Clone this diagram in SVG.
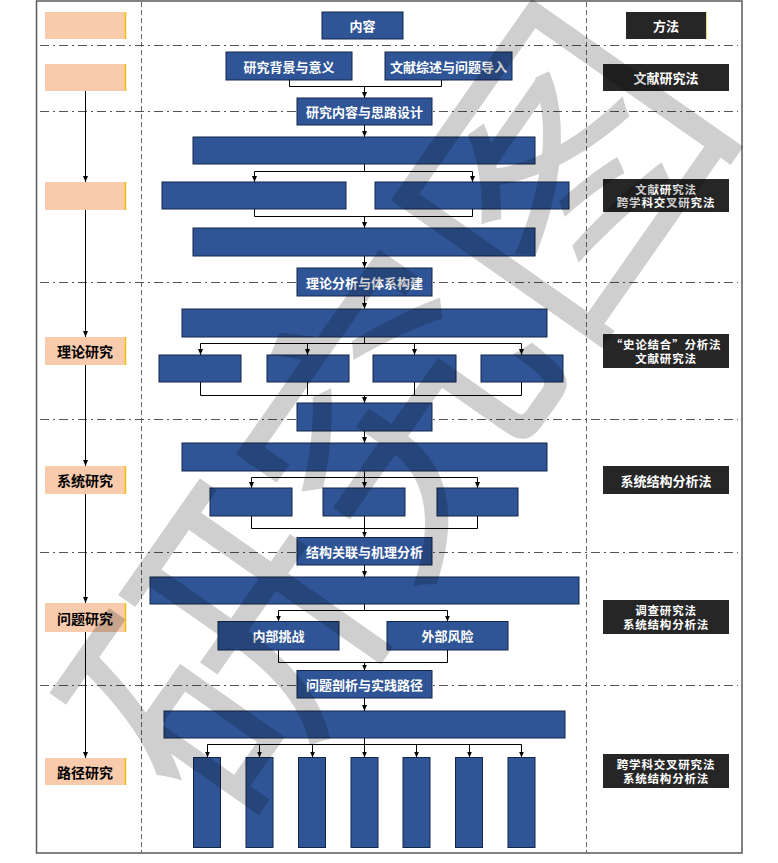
<svg xmlns="http://www.w3.org/2000/svg" width="778" height="863" viewBox="0 0 778 863">
<defs>
<style>
.pk{fill:#F8CBAD}
.pe{stroke:#F2C200;stroke-width:1.5}
.bl{fill:#2F5597;stroke:#15264A;stroke-width:1}
.dk{fill:#262626}
.t{font-family:"Noto Sans CJK SC","Noto Sans CJK JP",sans-serif;font-weight:bold;text-anchor:middle;dominant-baseline:central}
.w{fill:#fff;font-size:13px}
.k{fill:#000;font-size:14px}
.m{fill:#fff;font-size:13px}
.m2{fill:#fff;font-size:11.5px;letter-spacing:0.8px}
.ln{stroke:#000;stroke-width:1;fill:none}
.ar{stroke:#000;stroke-width:1;fill:none;marker-end:url(#a)}
.hd{stroke:#555;stroke-width:1;stroke-dasharray:9 4 2 4;fill:none}
.vd{stroke:#666;stroke-width:1;stroke-dasharray:5 3;fill:none}
</style>
<marker id="a" viewBox="0 0 6 6" refX="6" refY="3" markerWidth="6" markerHeight="6" orient="auto" markerUnits="userSpaceOnUse"><path d="M0,0.5 L6,3 L0,5.5 z" fill="#000"/></marker>
</defs>
<rect x="0" y="0" width="778" height="863" fill="#fff"/>
<rect x="36.5" y="1" width="705.5" height="852" fill="none" stroke="#595959" stroke-width="1.5"/>
<g id="grid">
<path class="vd" d="M141.5,2 V853 M586.5,2 V853"/>
<path class="hd" d="M40,45.5 H738 M40,111.5 H738 M40,282.5 H738 M40,419.5 H738 M40,552.5 H738 M40,685.5 H738"/>
</g>
<g id="connectors">
<path class="ar" d="M85.5,91 V182"/>
<path class="ar" d="M85.5,210 V337"/>
<path class="ar" d="M85.5,365 V466"/>
<path class="ar" d="M85.5,494 V603"/>
<path class="ar" d="M85.5,632 V758"/>
<path class="ln" d="M289.5,80 V86.5 H441.5 V80"/>
<path class="ar" d="M364.5,86.5 V98"/>
<path class="ar" d="M364.5,125 V137"/>
<path class="ln" d="M364.5,164 V171.5 M254.5,171.5 H472.5"/>
<path class="ar" d="M254.5,171.5 V182"/>
<path class="ar" d="M472.5,171.5 V182"/>
<path class="ln" d="M254.5,209 V216.5 H472.5 V209"/>
<path class="ar" d="M364.5,216.5 V228"/>
<path class="ar" d="M364.5,256 V268"/>
<path class="ar" d="M364.5,296 V309"/>
<path class="ln" d="M364.5,337 V343.5 M200.5,343.5 H521.5"/>
<path class="ar" d="M200.5,343.5 V355"/>
<path class="ar" d="M307.5,343.5 V355"/>
<path class="ar" d="M414.5,343.5 V355"/>
<path class="ar" d="M521.5,343.5 V355"/>
<path class="ln" d="M200.5,382 V395.5 H521.5 V382 M307.5,382 V395.5 M414.5,382 V395.5"/>
<path class="ar" d="M364.5,395.5 V403"/>
<path class="ar" d="M364.5,431 V443"/>
<path class="ln" d="M364.5,471 V477.5 M251.5,477.5 H477.5"/>
<path class="ar" d="M251.5,477.5 V488"/>
<path class="ar" d="M364.5,477.5 V488"/>
<path class="ar" d="M477.5,477.5 V488"/>
<path class="ln" d="M251.5,516 V528.5 H477.5 V516 M364.5,516 V528.5"/>
<path class="ar" d="M364.5,528.5 V537.5"/>
<path class="ar" d="M364.5,565 V577"/>
<path class="ln" d="M364.5,604 V610.5 M278.5,610.5 H447.5"/>
<path class="ar" d="M278.5,610.5 V621.5"/>
<path class="ar" d="M447.5,610.5 V621.5"/>
<path class="ln" d="M278.5,650 V662.5 H447.5 V650"/>
<path class="ar" d="M364.5,662.5 V670.5"/>
<path class="ar" d="M364.5,698 V711"/>
<path class="ln" d="M364.5,738 V744.5 M207.5,744.5 H521.5"/>
<path class="ar" d="M207.5,744.5 V757.5"/>
<path class="ar" d="M259.5,744.5 V757.5"/>
<path class="ar" d="M312.5,744.5 V757.5"/>
<path class="ar" d="M364.5,744.5 V757.5"/>
<path class="ar" d="M416.5,744.5 V757.5"/>
<path class="ar" d="M469.5,744.5 V757.5"/>
<path class="ar" d="M521.5,744.5 V757.5"/>
</g>
<g id="stage-0"><rect class="pk" x="45" y="12" width="81" height="27"/><path class="pe" d="M125.5,12 V39"/></g>
<g id="stage-1"><rect class="pk" x="45" y="64" width="81" height="27"/><path class="pe" d="M125.5,64 V91"/></g>
<g id="stage-2"><rect class="pk" x="45" y="182" width="81" height="28"/><path class="pe" d="M125.5,182 V210"/></g>
<g id="stage-3"><rect class="pk" x="45" y="337" width="81" height="28"/><path class="pe" d="M125.5,337 V365"/><text class="t k" x="85" y="351">理论研究</text></g>
<g id="stage-4"><rect class="pk" x="45" y="466" width="81" height="28"/><path class="pe" d="M125.5,466 V494"/><text class="t k" x="85" y="480">系统研究</text></g>
<g id="stage-5"><rect class="pk" x="45" y="603" width="81" height="29"/><path class="pe" d="M125.5,603 V632"/><text class="t k" x="85" y="617.5">问题研究</text></g>
<g id="stage-6"><rect class="pk" x="45" y="758" width="81" height="27"/><path class="pe" d="M125.5,758 V785"/><text class="t k" x="85" y="771.5">路径研究</text></g>
<g id="content-head"><rect class="bl" x="322" y="12" width="81" height="27"/><text class="t w" x="362.5" y="25.5">内容</text></g>
<g id="n-bg"><rect class="bl" x="226" y="52" width="126" height="28"/><text class="t w" x="289" y="66">研究背景与意义</text></g>
<g id="n-lit"><rect class="bl" x="385" y="52" width="127" height="28"/><text class="t w" x="448.5" y="66">文献综述与问题导入</text></g>
<g id="n-design"><rect class="bl" x="297" y="98" width="135" height="27"/><text class="t w" x="364.5" y="111.5">研究内容与思路设计</text></g>
<g id="n-b1"><rect class="bl" x="193" y="137" width="342" height="27"/></g>
<g id="n-b1l"><rect class="bl" x="162" y="182" width="184" height="27"/></g>
<g id="n-b1r"><rect class="bl" x="375" y="182" width="194" height="27"/></g>
<g id="n-b2"><rect class="bl" x="193" y="228" width="342" height="28"/></g>
<g id="n-theory"><rect class="bl" x="297" y="268" width="135" height="28"/><text class="t w" x="364.5" y="282">理论分析与体系构建</text></g>
<g id="n-b3"><rect class="bl" x="182" y="309" width="365" height="28"/></g>
<g id="n-b3a"><rect class="bl" x="159" y="355" width="82" height="27"/></g>
<g id="n-b3b"><rect class="bl" x="267" y="355" width="82" height="27"/></g>
<g id="n-b3c"><rect class="bl" x="373" y="355" width="83" height="27"/></g>
<g id="n-b3d"><rect class="bl" x="481" y="355" width="82" height="27"/></g>
<g id="n-b4"><rect class="bl" x="297" y="403" width="135" height="28"/></g>
<g id="n-b5"><rect class="bl" x="182" y="443" width="365" height="28"/></g>
<g id="n-b5a"><rect class="bl" x="210" y="488" width="82" height="28"/></g>
<g id="n-b5b"><rect class="bl" x="323" y="488" width="82" height="28"/></g>
<g id="n-b5c"><rect class="bl" x="437" y="488" width="81" height="28"/></g>
<g id="n-struct"><rect class="bl" x="297" y="537.5" width="135" height="27.5"/><text class="t w" x="364.5" y="551">结构关联与机理分析</text></g>
<g id="n-b6"><rect class="bl" x="150" y="577" width="429" height="27"/></g>
<g id="n-inner"><rect class="bl" x="218" y="621.5" width="121" height="28.5"/><text class="t w" x="278.5" y="635.5">内部挑战</text></g>
<g id="n-outer"><rect class="bl" x="387" y="621.5" width="121" height="28.5"/><text class="t w" x="447.5" y="635.5">外部风险</text></g>
<g id="n-path"><rect class="bl" x="297" y="670.5" width="135" height="27.5"/><text class="t w" x="364.5" y="684">问题剖析与实践路径</text></g>
<g id="n-b7"><rect class="bl" x="164" y="711" width="401" height="27"/></g>
<g id="n-c1"><rect class="bl" x="193.5" y="757.5" width="27" height="90"/></g>
<g id="n-c2"><rect class="bl" x="246" y="757.5" width="27" height="90"/></g>
<g id="n-c3"><rect class="bl" x="298.5" y="757.5" width="27" height="90"/></g>
<g id="n-c4"><rect class="bl" x="351" y="757.5" width="27" height="90"/></g>
<g id="n-c5"><rect class="bl" x="403" y="757.5" width="27" height="90"/></g>
<g id="n-c6"><rect class="bl" x="455.5" y="757.5" width="27" height="90"/></g>
<g id="n-c7"><rect class="bl" x="508" y="757.5" width="27" height="90"/></g>
<g id="method-head"><rect class="dk" x="626" y="12" width="81" height="27"/><path d="M706.5,12 V39" stroke="#E8DC80" stroke-width="1"/><text class="t m" x="666" y="25.5">方法</text></g>
<g id="m-1"><rect class="dk" x="603" y="64" width="126" height="27"/><text class="t m" x="666" y="77.5">文献研究法</text></g>
<g id="m-2"><rect class="dk" x="603" y="179" width="126" height="33"/><text class="t m2" x="666" y="188.8">文献研究法<tspan x="666" dy="13.4">跨学科交叉研究法</tspan></text></g>
<g id="m-3"><rect class="dk" x="603" y="334" width="126" height="34"/><text class="t m2" x="666" y="344.3">“史论结合”分析法<tspan x="666" dy="13.4">文献研究法</tspan></text></g>
<g id="m-4"><rect class="dk" x="603" y="466" width="126" height="28"/><text class="t m" x="666" y="480">系统结构分析法</text></g>
<g id="m-5"><rect class="dk" x="603" y="600" width="126" height="34"/><text class="t m2" x="666" y="610.3">调查研究法<tspan x="666" dy="13.4">系统结构分析法</tspan></text></g>
<g id="m-6"><rect class="dk" x="603" y="754" width="126" height="34"/><text class="t m2" x="666" y="764.3">跨学科交叉研究法<tspan x="666" dy="13.4">系统结构分析法</tspan></text></g>
<g id="watermark"><text transform="translate(379,402) rotate(-55)" x="0" y="0" font-family="Noto Sans CJK SC, sans-serif" font-size="295" text-anchor="middle" dominant-baseline="central" fill="#000" fill-opacity="0.19">研究图</text></g>
</svg>
